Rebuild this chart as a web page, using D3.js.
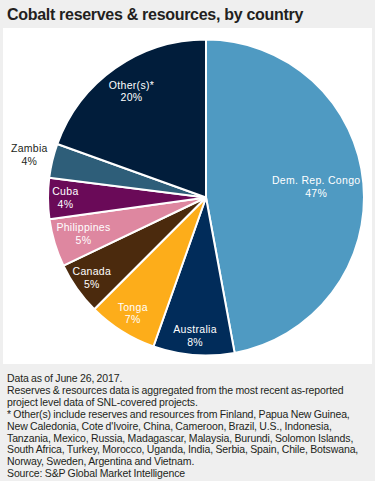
<!DOCTYPE html>
<html>
<head>
<meta charset="utf-8">
<script src="https://cdn.jsdelivr.net/npm/d3@7"></script>
<style>
  html, body { margin: 0; padding: 0; background: #efefef; }
  svg { display: block; font-family: "Liberation Sans", Arial, sans-serif; }
</style>
</head>
<body>
<div id="chart"></div>
<script>
const categories = ['Dem. Rep. Congo', 'Australia', 'Tonga', 'Canada', 'Philippines', 'Cuba', 'Zambia', 'Other(s)*'];
const shares = [47.1, 8.3, 7.1, 5.4, 4.9, 4.2, 3.5, 19.5];
const colors = ['#4f9ac2', '#012c5a', '#fdad1a', '#4b2a0d', '#de87a0', '#6a0a58', '#2e5e79', '#011d3b'];
const title = 'Cobalt reserves & resources, by country';
const notes = [
  'Data as of June 26, 2017.',
  'Reserves & resources data is aggregated from the most recent as-reported',
  'project level data of SNL-covered projects.',
  '* Other(s) include reserves and resources from Finland, Papua New Guinea,',
  'New Caledonia, Cote d\'Ivoire, China, Cameroon, Brazil, U.S., Indonesia,',
  'Tanzania, Mexico, Russia, Madagascar, Malaysia, Burundi, Solomon Islands,',
  'South Africa, Turkey, Morocco, Uganda, India, Serbia, Spain, Chile, Botswana,',
  'Norway, Sweden, Argentina and Vietnam.',
  'Source: S&P Global Market Intelligence'
];

// label distance from centre, as a share of the radius
const labelRadius = [0.70, 0.88, 0.87, 0.885, 0.81, 0.89, 1.15, 0.82];
const outside = [false, false, false, false, false, false, true, false];

const width = 375, height = 481;
const cx = 206, cy = 197.5, radius = 158;

const svg = d3.select('#chart').append('svg')
  .attr('width', width)
  .attr('height', height);

svg.append('rect')
  .attr('width', width).attr('height', height)
  .attr('fill', '#efefef');

svg.append('rect')
  .attr('x', 3).attr('y', 28)
  .attr('width', 369).attr('height', 336)
  .attr('fill', '#fff');

svg.append('text')
  .attr('x', 7).attr('y', 19.5)
  .attr('fill', '#231f20')
  .style('font-size', '16px')
  .style('font-weight', 'bold')
  .style('letter-spacing', '-0.3px')
  .text(title);

const data = categories.map((c, i) => ({ label: c, value: shares[i], i }));

const pie = d3.pie().sort(null).value(d => d.value);
const arcs = pie(data);
const arc = d3.arc().innerRadius(0).outerRadius(radius);

const g = svg.append('g').attr('transform', `translate(${cx},${cy})`);

g.selectAll('path.slice')
  .data(arcs)
  .enter()
  .append('path')
  .attr('class', 'slice')
  .attr('d', arc)
  .attr('fill', d => colors[d.data.i])
  .attr('stroke', '#fff')
  .attr('stroke-width', 2)
  .attr('stroke-linejoin', 'round');

const labels = g.selectAll('text.lbl')
  .data(arcs)
  .enter()
  .append('text')
  .attr('class', 'lbl')
  .attr('text-anchor', 'middle')
  .attr('fill', d => outside[d.data.i] ? '#231f20' : '#fff')
  .style('font-size', '10.5px')
  .style('letter-spacing', '0.3px')
  .attr('transform', d => {
    const r = radius * labelRadius[d.data.i];
    const p = d3.arc().innerRadius(r).outerRadius(r).centroid(d);
    return `translate(${p[0]},${p[1]})`;
  });

labels.append('tspan')
  .attr('x', 0).attr('y', -3)
  .text(d => d.data.label);

labels.append('tspan')
  .attr('x', 0).attr('y', 9.7)
  .text(d => Math.round(d.data.value) + '%');

svg.append('g')
  .selectAll('text')
  .data(notes)
  .enter()
  .append('text')
  .attr('x', 7)
  .attr('y', (d, i) => 382 + i * 11.9)
  .attr('fill', '#231f20')
  .style('font-size', '10.5px')
  .style('letter-spacing', '-0.12px')
  .style('word-spacing', '-0.4px')
  .text(d => d);
</script>
</body>
</html>
